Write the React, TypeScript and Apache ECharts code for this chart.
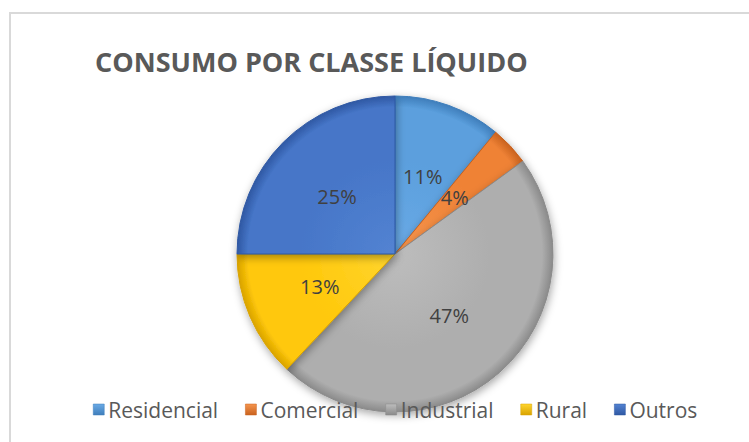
import React, { useEffect, useRef } from "react";
import * as echarts from "echarts";

const categories = ["Residencial", "Comercial", "Industrial", "Rural", "Outros"];
const values = [11, 4, 47, 13, 25];
const baseColors = ["#5B9FDD", "#EF8236", "#AEAEAE", "#FFC80A", "#4676C8"];
const edgeColors = ["#3F7EBB", "#C9621E", "#8A8A8A", "#D9A300", "#2F58A3"];
const lightColors = ["#6AAAE6", "#F5954E", "#BDBDBD", "#FFD52E", "#5383D2"];
const titleText = "CONSUMO POR CLASSE LÍQUIDO";

const CX = 395;
const CY = 254;
const R = 158;

export default function App() {
  const ref = useRef<HTMLDivElement>(null);
  useEffect(() => {
    document.body.style.margin = "0";
    const chart = echarts.init(ref.current!, null, { renderer: "svg" });
    const data = categories.map((name, i) => ({
      name,
      value: values[i],
      itemStyle: {
        color: {
          type: "radial",
          x: CX,
          y: CY,
          r: R,
          global: true,
          colorStops: [
            { offset: 0, color: lightColors[i] },
            { offset: 0.6, color: baseColors[i] },
            { offset: 0.93, color: baseColors[i] },
            { offset: 1, color: edgeColors[i] },
          ],
        },
        borderColor: edgeColors[i],
        borderWidth: 1,
      },
    }));
    const legendData = categories.map((name, i) => ({
      name,
      itemStyle: {
        color: {
          type: "linear",
          x: 0,
          y: 0,
          x2: 0,
          y2: 1,
          colorStops: [
            { offset: 0, color: lightColors[i] },
            { offset: 1, color: edgeColors[i] },
          ],
        },
        borderColor: edgeColors[i],
        borderWidth: 0.5,
      },
    }));
    chart.setOption({
      animation: false,
      backgroundColor: "#ffffff",
      graphic: [
        {
          type: "rect",
          shape: { x: 10, y: 13, width: 800, height: 500 },
          style: { fill: "none", stroke: "#D9D9D9", lineWidth: 2 },
          z: -10,
        },
      ],
      title: {
        text: titleText,
        left: 90,
        top: 43,
        textStyle: {
          fontFamily: "Open Sans",
          fontWeight: "bold",
          fontSize: 27,
          color: "#595959",
        },
      },
      legend: {
        data: legendData,
        left: 88,
        top: 394,
        icon: "rect",
        itemWidth: 11,
        itemHeight: 11,
        itemGap: 27,
        textStyle: {
          fontFamily: "Open Sans",
          fontSize: 21,
          color: "#595959",
          padding: [0, 0, 0, -1],
        },
      },
      series: [
        {
          type: "pie",
          center: [CX, CY],
          radius: R,
          startAngle: 90,
          clockwise: true,
          avoidLabelOverlap: false,
          label: {
            show: true,
            position: "inside",
            formatter: "{d}%",
            fontFamily: "Open Sans",
            fontSize: 20,
            color: "#404040",
          },
          labelLine: { show: false },
          itemStyle: {
            shadowBlur: 8,
            shadowColor: "rgba(0,0,0,0.35)",
            shadowOffsetX: 1,
            shadowOffsetY: 3,
          },
          emphasis: { disabled: true },
          data,
        },
      ],
    });
    return () => chart.dispose();
  }, []);
  return <div ref={ref} style={{ width: 749, height: 442 }} />;
}
